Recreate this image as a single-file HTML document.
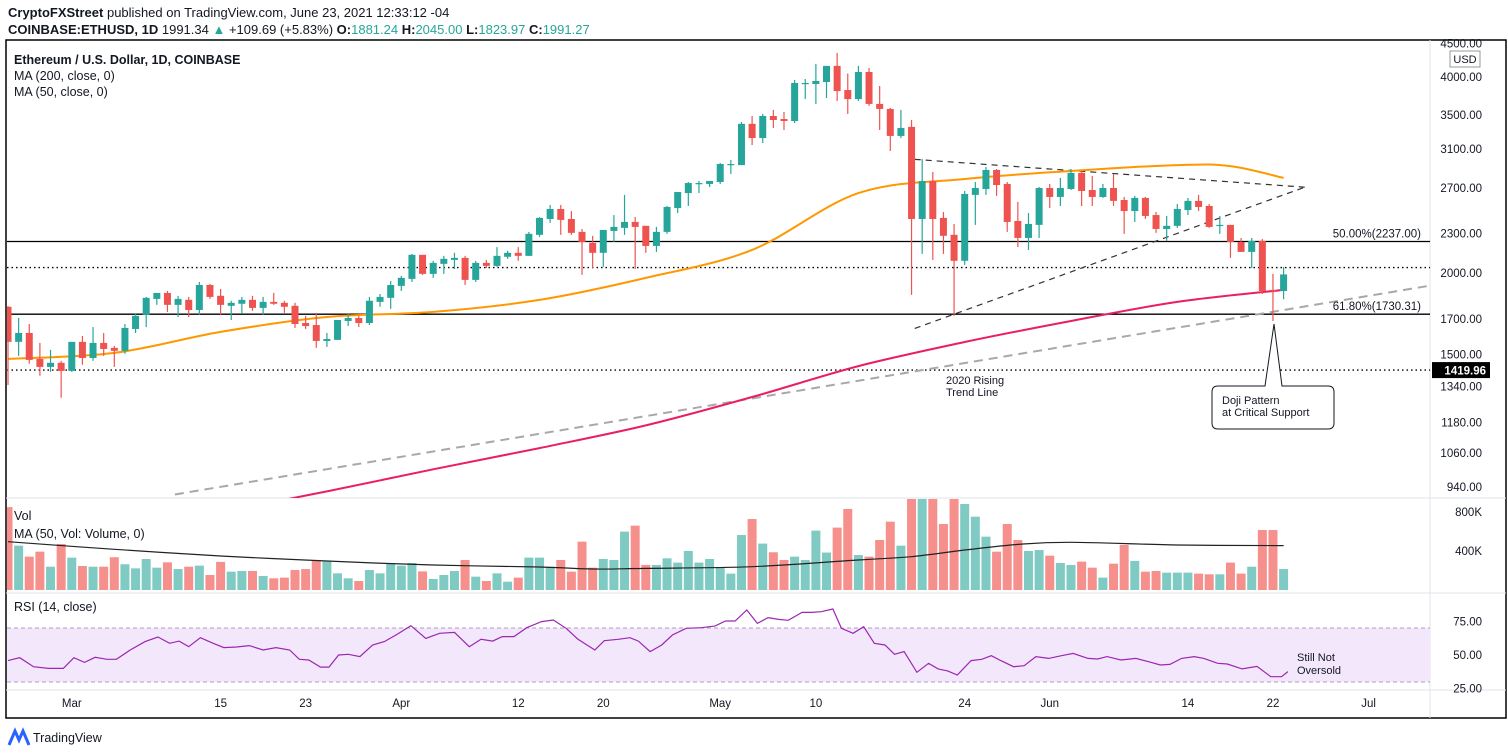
<!DOCTYPE html>
<html><head><meta charset="utf-8"><style>
html,body{margin:0;padding:0;background:#fff;width:1508px;height:755px;overflow:hidden}
svg{display:block;font-family:"Liberation Sans",sans-serif}
</style></head><body>
<svg id="c" width="1508" height="755" viewBox="0 0 1508 755">
<defs><clipPath id="pc"><rect x="7" y="41" width="1423" height="457"/></clipPath>
<clipPath id="vc"><rect x="7" y="499" width="1423" height="92"/></clipPath></defs>
<text x="8" y="17" font-size="13" fill="#131722"><tspan font-weight="bold">CryptoFXStreet</tspan> published on TradingView.com, June 23, 2021 12:33:12 -04</text>
<text x="8" y="34" font-size="13" fill="#131722"><tspan font-weight="bold">COINBASE:ETHUSD, 1D</tspan> 1991.34 <tspan fill="#26a69a">▲</tspan> +109.69 (+5.83%) <tspan font-weight="bold">O:</tspan><tspan fill="#26a69a">1881.24</tspan> <tspan font-weight="bold">H:</tspan><tspan fill="#26a69a">2045.00</tspan> <tspan font-weight="bold">L:</tspan><tspan fill="#26a69a">1823.97</tspan> <tspan font-weight="bold">C:</tspan><tspan fill="#26a69a">1991.27</tspan></text>
<rect x="6" y="40" width="1500" height="678" fill="none" stroke="#000" stroke-width="1.5"/>
<line x1="1430" y1="40" x2="1430" y2="718" stroke="#e0e3eb"/>
<line x1="6" y1="498" x2="1506" y2="498" stroke="#e0e3eb"/>
<line x1="6" y1="593" x2="1506" y2="593" stroke="#e0e3eb"/>
<line x1="6" y1="690" x2="1506" y2="690" stroke="#e0e3eb"/>
<text x="14" y="64" font-size="12.5" font-weight="bold" fill="#131722">Ethereum / U.S. Dollar, 1D, COINBASE</text>
<text x="14" y="80" font-size="12.5" fill="#131722">MA (200, close, 0)</text>
<text x="14" y="96" font-size="12.5" fill="#131722">MA (50, close, 0)</text>
<rect x="1450" y="51" width="30" height="16" fill="#fff" stroke="#999"/>
<text x="1465" y="63" font-size="11" text-anchor="middle" fill="#131722">USD</text>
<g id="price" clip-path="url(#pc)"></g>
<g id="priceAxis"></g>
<g id="vol" clip-path="url(#vc)"></g>
<text x="14" y="520" font-size="12.5" fill="#131722">Vol</text>
<text x="14" y="538" font-size="12.5" fill="#131722">MA (50, Vol: Volume, 0)</text>
<rect x="7" y="628" width="1423" height="54" fill="#f3e7fc"/>
<line x1="7" y1="628" x2="1430" y2="628" stroke="#b29bc6" stroke-dasharray="4,3"/>
<line x1="7" y1="682" x2="1430" y2="682" stroke="#b29bc6" stroke-dasharray="4,3"/>
<g id="rsi"></g>
<text x="14" y="611" font-size="12.5" fill="#131722">RSI (14, close)</text>
<text x="1297" y="661" font-size="11" fill="#131722">Still Not</text>
<text x="1297" y="674" font-size="11" fill="#131722">Oversold</text>
<g id="xaxis"></g>
<g><path d="M9 745 L15 731 L19 740 L23 731 L29 745" fill="none" stroke="#2962ff" stroke-width="3"/><text x="33" y="742" font-size="12.5" fill="#131722">TradingView</text></g>
</svg>
<script>
const NS='http://www.w3.org/2000/svg';
const opens=[1776,1569,1619,1477,1436,1457,1416,1569,1482,1563,1536,1520,1642,1726,1826,1865,1788,1820,1756,1918,1846,1782,1795,1820,1769,1807,1801,1782,1677,1665,1574,1580,1689,1707,1677,1807,1833,1912,1960,2134,1995,2067,2096,2111,1953,2074,2052,2119,2149,2126,2290,2422,2509,2422,2314,2226,2149,2322,2347,2397,2364,2202,2314,2518,2654,2741,2741,2760,2941,2930,3390,3224,3485,3448,3424,3902,3902,3930,4160,3820,3700,4071,3637,3573,3248,3354,2422,2770,2431,2290,2089,2637,2693,2880,2741,2405,2265,2372,2702,2618,2693,2850,2683,2618,2702,2590,2491,2609,2456,2338,2364,2500,2582,2536,2364,2372,2233,2156,2241,1885,1878];
const highs=[1780,1707,1671,1563,1525,1467,1569,1602,1653,1619,1547,1671,1732,1839,1865,1878,1846,1839,1939,1925,1891,1814,1839,1846,1839,1865,1814,1801,1720,1738,1619,1695,1732,1720,1839,1858,1946,1981,2141,2134,2089,2126,2149,2126,2089,2096,2193,2164,2193,2314,2439,2545,2545,2491,2338,2282,2330,2456,2637,2439,2364,2355,2536,2664,2760,2770,2770,2952,2983,3412,3485,3510,3560,3535,3958,3972,4190,4160,4355,4050,4160,4130,3875,3585,3560,3436,2993,2860,2483,2380,2674,2760,2910,2890,2760,2573,2474,2712,2741,2800,2890,2870,2820,2741,2840,2618,2628,2618,2483,2448,2554,2609,2637,2554,2448,2372,2265,2265,2257,1995,2045];
const lows=[1347,1493,1452,1392,1411,1288,1411,1447,1467,1493,1436,1504,1619,1653,1788,1744,1713,1713,1726,1826,1726,1695,1732,1750,1726,1788,1738,1648,1642,1536,1541,1580,1659,1653,1665,1776,1763,1878,1939,1988,1967,1995,2030,1918,1939,2037,2045,2104,2089,2126,2273,2389,2290,2290,1988,2037,2045,2233,2290,2030,2149,2156,2298,2474,2536,2654,2712,2741,2840,2930,3145,3168,3341,3317,3400,3700,3637,3714,3675,3510,3675,3612,3317,3080,3224,1852,2141,2096,2141,1720,2059,2372,2637,2628,2314,2193,2171,2265,2518,2536,2683,2536,2536,2609,2536,2298,2397,2422,2306,2241,2347,2456,2491,2347,2298,2111,2156,2037,1858,1689,1824];
const closes=[1569,1619,1472,1436,1457,1416,1569,1482,1563,1530,1520,1648,1720,1833,1865,1788,1826,1756,1918,1839,1788,1801,1820,1769,1807,1795,1776,1671,1659,1574,1585,1695,1707,1677,1814,1839,1918,1967,2134,1995,2074,2104,2111,1953,2074,2052,2126,2149,2126,2298,2431,2509,2414,2306,2233,2149,2330,2355,2397,2355,2202,2314,2527,2664,2750,2750,2770,2941,2941,3390,3224,3485,3436,3424,3916,3916,3944,4160,3806,3700,4071,3637,3573,3248,3341,2422,2770,2422,2282,2089,2646,2702,2880,2731,2397,2265,2380,2702,2618,2702,2850,2674,2618,2702,2582,2491,2609,2448,2338,2364,2509,2582,2527,2355,2372,2233,2156,2241,1878,1878,1991];
const volumes=[850,455,342,393,239,472,332,246,239,239,336,264,222,318,229,284,215,239,250,154,288,188,195,195,144,120,127,205,215,308,291,171,120,92,205,171,274,250,277,191,113,154,195,308,137,92,171,85,127,332,332,239,308,188,496,229,318,308,599,660,257,257,325,281,400,281,318,229,168,564,728,476,387,308,342,308,609,384,640,831,359,342,513,701,455,950,950,950,677,950,882,752,547,393,677,513,400,410,352,277,257,291,229,127,270,462,298,188,195,178,178,178,168,161,161,281,168,239,615,615,215];
const ma50Days=[0,10,20,30,40,50,60,70,80,90,100,110,115,120];
const ma50Vals=[1477,1509,1625,1713,1744,1820,1967,2171,2654,2790,2870,2930,2920,2800];
const ma200Days=[20,30,40,50,60,70,80,90,100,110,120];
const ma200Vals=[860,925,1000,1078,1168,1291,1440,1568,1689,1807,1885];
const volMaDays=[0,10,20,30,40,50,55,60,70,80,85,90,95,100,110,120];
const volMaVals=[495,417,349,297,256,236,215,222,239,308,342,410,468,489,462,455];
const rsiDays=[0,1.1,2.4,3.8,5.2,6.2,7.2,8.2,9.3,10.2,11.5,12.9,14.1,15.2,16.1,17,18.1,19.3,20.3,21.5,22.7,24,25.2,26.5,27.4,28.3,29.4,30.2,31.1,32,33.1,34.3,35.4,36.5,37.9,39.3,40.6,42,43.4,44.5,45.6,46.5,47.6,48.8,50.2,51.3,52.5,53.6,55.2,56.1,57.4,58.5,59.3,60.4,61.5,62.5,63.8,65.2,66.5,67.5,68.4,69.5,70.5,71.5,72.5,73.4,74.7,75.6,76.5,77.6,78.4,79.5,80.5,81.5,82.5,83.4,84.3,85.5,86.6,87.5,88.4,89.3,90.6,91.6,92.5,93.4,94.6,95.6,96.7,97.9,99.1,100.2,101.6,102.5,103.4,104.7,106.1,107.3,108.4,109.3,110.4,111.6,112.5,113.8,114.7,116.1,117.5,118.8,119.8,120.4];
const rsiVals=[45.8,48,41.3,40,40,48,44.5,48.3,46.8,46.8,53.7,60,63.4,58.7,60.4,56.2,62.9,58.7,55.5,56,57,53.7,55.5,53.7,46.8,46.3,41,41,50,50.5,48.8,57.5,60,64.9,71.9,62.4,66.2,66.9,56.2,61.7,60.4,63.7,63.7,70.4,74.9,76.1,69.9,61.9,53.7,60.7,61.7,62.9,60.4,52.5,57.5,64.9,69.9,70.4,71.6,75.4,75.4,83.6,73.6,77.9,76.6,75.9,81.8,81.8,82.3,84.3,69.9,66.2,71.1,58.7,57.5,50.5,52.5,37.1,43.8,39.6,38.1,35.1,45.8,46.8,49.5,45.8,41.3,42,48.8,47.5,49.5,51.2,47.5,47,48.8,46.3,47.5,45,42.5,43,47.5,48.8,47.5,43.8,43.3,39.6,41.5,33.8,33.8,37.6];
const priceTicks=[4500,4000,3500,3100,2700,2300,2000,1700,1500,1340,1180,1060,940];
const volTicks=[800,400];
const volTickLabels=['800K','400K'];
const rsiTicks=[75,50,25];
const dateDays=[6,20,28,37,48,56,67,76,90,98,111,119,128];
const dateLabels=['Mar','15','23','Apr','12','20','May','10','24','Jun','14','22','Jul'];
const hLevels=[2237,2040,1730,1420];
const hStyles=['solid','dot','solid','dot'];
const triUpper=[[85.3,2990],[122,2710]];
const triLower=[[85.3,1645],[122,2710]];
const trend2020=[[15.7,915],[133.8,1914]];

const X=d=>8+d*10.63;
const LN4000=Math.log(4000);
const YP=p=>77+(LN4000-Math.log(p))*283;
const YV=v=>590-v*0.0975;
const YR=r=>655-(r-50)*1.34;
const G='#26a69a',R='#ef5350';
function mk(tag,attrs,parent){const e=document.createElementNS(NS,tag);for(const k in attrs)e.setAttribute(k,attrs[k]);parent.appendChild(e);return e;}
const price=document.getElementById('price'),pa=document.getElementById('priceAxis'),vol=document.getElementById('vol'),rsi=document.getElementById('rsi'),xa=document.getElementById('xaxis');

hLevels.forEach((p,k)=>{const y=YP(p);
 const l=mk('line',{x1:7,x2:1430,y1:y,y2:y,stroke:'#000','stroke-width':1.3,'stroke-dasharray':hStyles[k]==='dot'?'1.5,3':'none'},price);
 
 });
function seg(pts,attrs,name){const e=mk('line',Object.assign({x1:X(pts[0][0]),y1:YP(pts[0][1]),x2:X(pts[1][0]),y2:YP(pts[1][1])},attrs),price);
 
 }
seg(trend2020,{stroke:'#a8a8a8','stroke-width':2,'stroke-dasharray':'9,6'},'trend-line-2020');
seg(triUpper,{stroke:'#333','stroke-width':1.2,'stroke-dasharray':'6,5'},'triangle-upper-line');
seg(triLower,{stroke:'#333','stroke-width':1.2,'stroke-dasharray':'6,5'},'triangle-lower-line');
function poly(days,vals,fx,fy,attrs,parent,name){const d=days.map((t,i)=>(i?'L':'M')+fx(t).toFixed(1)+','+fy(vals[i]).toFixed(1)).join('');
 const e=mk('path',Object.assign({d:d,fill:'none'},attrs),parent);
 
 }
function smooth(days,vals,fx,fy,attrs,parent,name){const P=days.map((t,i)=>[fx(t),fy(vals[i])]);
 let d='M'+P[0][0].toFixed(1)+','+P[0][1].toFixed(1);
 for(let i=0;i<P.length-1;i++){const p0=P[Math.max(0,i-1)],p1=P[i],p2=P[i+1],p3=P[Math.min(P.length-1,i+2)];
  const c1=[p1[0]+(p2[0]-p0[0])/6,p1[1]+(p2[1]-p0[1])/6],c2=[p2[0]-(p3[0]-p1[0])/6,p2[1]-(p3[1]-p1[1])/6];
  d+='C'+c1.map(v=>v.toFixed(1)).join(',')+' '+c2.map(v=>v.toFixed(1)).join(',')+' '+p2[0].toFixed(1)+','+p2[1].toFixed(1);}
 const e=mk('path',Object.assign({d:d,fill:'none'},attrs),parent);
 
 }
smooth(ma200Days,ma200Vals,X,YP,{stroke:'#e91e63','stroke-width':2},price,'ma200-line');
smooth(ma50Days,ma50Vals,X,YP,{stroke:'#ff9800','stroke-width':2},price,'ma50-line');
opens.forEach((o,i)=>{const c=closes[i],up=c>=o,col=up?G:R,x=X(i);
 const g=mk('g',{},price);
 
 
 mk('line',{x1:x,x2:x,y1:YP(highs[i]),y2:YP(lows[i]),stroke:col,'stroke-width':1.2},g);
 const t=YP(Math.max(o,c)),b=YP(Math.min(o,c));
 mk('rect',{x:x-3.5,y:t,width:7,height:Math.max(1.2,b-t),fill:col},g);});
priceTicks.forEach(p=>{const t=mk('text',{x:1482,y:YP(p)+4,'font-size':11.5,'text-anchor':'end',fill:'#131722'},pa);t.textContent=p.toFixed(2);
 
 });
[[2237,'50.00%(2237.00)'],[1730,'61.80%(1730.31)']].forEach(a=>{const t=mk('text',{x:1421,y:YP(a[0])-4,'font-size':11.5,'text-anchor':'end',fill:'#131722'},pa);t.textContent=a[1];
 
 });
{const y=YP(1420);const r=mk('rect',{x:1432,y:y-8,width:58,height:16,fill:'#000'},pa);
 
 
 const t=mk('text',{x:1486,y:y+4.5,'font-size':11.5,'font-weight':'bold','text-anchor':'end',fill:'#fff'},pa);t.textContent='1419.96';}
{const a=mk('text',{x:946,y:384,'font-size':11,fill:'#131722'},pa);a.textContent='2020 Rising';
 
 
 const b=mk('text',{x:946,y:396,'font-size':11,fill:'#131722'},pa);b.textContent='Trend Line';
 
 
 const p=mk('path',{d:'M1212,392 q0,-6 6,-6 L1265,386 L1274,324 L1282,386 L1328,386 q6,0 6,6 L1334,423 q0,6 -6,6 L1218,429 q-6,0 -6,-6 Z',fill:'#fff',stroke:'#131722','stroke-width':1},pa);
 
 
 const c=mk('text',{x:1222,y:404,'font-size':11,fill:'#131722'},pa);c.textContent='Doji Pattern';
 
 
 const d=mk('text',{x:1222,y:416,'font-size':11,fill:'#131722'},pa);d.textContent='at Critical Support';
 
 }
volumes.forEach((v,i)=>{const up=closes[i]>=opens[i];const r=mk('rect',{x:X(i)-4.5,y:YV(v),width:9,height:590-YV(v),fill:up?'#7fcbc3':'#f6908d'},vol);
 
 });
smooth(volMaDays,volMaVals,X,YV,{stroke:'#222','stroke-width':1.2},vol,'volume-ma-line');
volTicks.forEach((v,k)=>{const t=mk('text',{x:1482,y:YV(v)+4,'font-size':11.5,'text-anchor':'end',fill:'#131722'},pa);t.textContent=volTickLabels[k];
 
 });
poly(rsiDays,rsiVals,X,YR,{stroke:'#9c27b0','stroke-width':1.2},rsi,'rsi-line');
rsiTicks.forEach(v=>{const t=mk('text',{x:1482,y:YR(v)+4,'font-size':11.5,'text-anchor':'end',fill:'#131722'},pa);t.textContent=v.toFixed(2);
 
 });
dateDays.forEach((d,k)=>{const t=mk('text',{x:X(d),y:707,'font-size':11.5,'text-anchor':'middle',fill:'#131722'},xa);t.textContent=dateLabels[k];
 
 });
</script>
</body></html>
